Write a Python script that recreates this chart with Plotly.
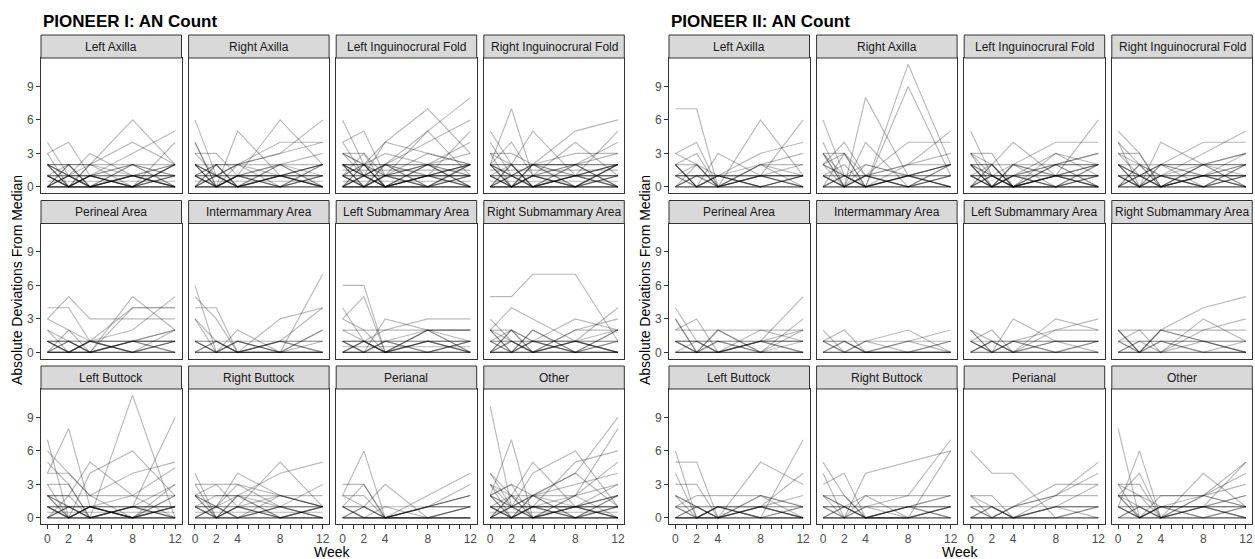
import plotly.graph_objects as go

# ---------------- data ----------------
WEEKS = [0, 2, 4, 8, 12]
X_TICK_LABELS = ["0", "", "2", "", "4", "", "", "", "8", "", "", "", "12"]
Y_TICKS = [0, 3, 6, 9]
FACETS = ["Left Axilla", "Right Axilla", "Left Inguinocrural Fold", "Right Inguinocrural Fold",
          "Perineal Area", "Intermammary Area", "Left Submammary Area", "Right Submammary Area",
          "Left Buttock", "Right Buttock", "Perianal", "Other"]
TITLES = ["PIONEER I: AN Count", "PIONEER II: AN Count"]

# each facet: list of subjects, values at WEEKS
P1_LEFT_AXILLA = [[4, 1, 3, 1, 0], [3, 4, 1, 2, 1], [2, 2, 2, 6, 2], [1, 0, 2, 4, 2], [2, 1, 1, 3, 5],
                  [3, 0, 1, 0, 4], [2, 2, 2, 2, 2], [2, 0, 1, 0, 2], [0, 2, 0, 1, 0], [1, 0, 1, 0, 1],
                  [0, 1, 0, 1, 0], [1, 1, 1, 1, 1], [0, 0, 0, 0, 0], [2, 1, 0, 1, 2], [0, 0, 1, 2, 0],
                  [1, 2, 0, 0, 2], [0, 1, 2, 1, 0], [0.5, 0.5, 0.5, 0.5, 0.5], [1, 0, 0, 1, 1],
                  [2, 0, 2, 0, 2], [0, 1, 0, 2, 1], [0, 0, 0, 0, 0], [1, 1, 1, 1, 1],
                  [2, 0, 1, 0, 2], [0, 2, 0, 2, 0], [1, 0, 1, 0, 1], [0, 1, 0, 1, 0], [0, 0, 0, 0, 0],
                  [2, 1, 0, 1, 2], [1, 0, 0, 0, 1], [0, 0, 0, 0, 0], [1, 1, 1, 1, 1]]
P1_RIGHT_AXILLA = [[6, 1, 0, 2, 1], [4, 0, 5, 1, 2], [3, 3, 1, 6, 2], [2, 1, 2, 3, 6], [3, 1, 2, 4, 4],
                   [1, 2, 2, 3, 4], [2, 0, 1, 2, 3], [4, 0, 1, 1, 0], [2, 0, 1, 0, 2], [0, 2, 0, 2, 0],
                   [1, 0, 1, 0, 1], [0, 1, 0, 1, 0], [1, 1, 1, 1, 1], [0, 0, 0, 0, 0], [2, 1, 0, 1, 2],
                   [0, 1, 2, 1, 0], [1, 2, 0, 0, 1], [0.5, 0.5, 0.5, 0.5, 0.5], [2, 2, 2, 2, 2],
                   [1, 0, 0, 1, 1], [0, 0, 1, 2, 0], [1, 1, 1, 1, 1], [0, 0, 0, 0, 0],
                   [2, 0, 2, 0, 2], [0, 1, 0, 1, 0], [1, 0, 1, 0, 1], [0, 0, 0, 0, 0], [2, 1, 0, 1, 2],
                   [1, 1, 1, 1, 1], [0, 2, 0, 1, 0], [1, 0, 1, 1, 2]]
P1_LEFT_INGUINOCRURAL = [[6, 2, 0, 1, 2], [4, 5, 1, 3, 2], [2, 2, 4, 7, 3], [1, 2, 1, 5, 8], [3, 1, 4, 3, 2],
                         [2, 1, 2, 4, 6], [3, 2, 3, 2, 4], [3, 3, 1, 1, 5], [1, 3, 0, 2, 3], [4, 1, 2, 5, 1],
                         [2, 0, 1, 0, 2], [0, 2, 0, 2, 0], [1, 0, 1, 0, 1], [0, 1, 0, 1, 0], [1, 1, 1, 1, 1],
                         [0, 0, 0, 0, 0], [2, 1, 0, 1, 2], [0, 1, 2, 1, 0], [1, 2, 0, 0, 1], [2, 2, 2, 2, 2],
                         [0.5, 0.5, 0.5, 0.5, 0.5], [1, 0, 0, 1, 1], [0, 0, 1, 2, 0], [2, 0, 2, 0, 2],
                         [1.5, 1.5, 1.5, 1.5, 1.5], [0, 1, 0, 1, 2], [1, 1, 1, 1, 1], [0, 0, 0, 0, 0],
                         [2, 1, 2, 1, 1], [3, 2, 1, 2, 1],
                         [2, 0, 2, 0, 2], [0, 2, 0, 2, 0], [1, 0, 1, 0, 1], [0, 1, 0, 1, 0], [0, 0, 0, 0, 0],
                         [2, 1, 0, 1, 2], [1, 1, 1, 1, 1], [0, 0, 0, 0, 0], [2, 2, 2, 2, 2], [1, 0, 1, 2, 1]]
P1_RIGHT_INGUINOCRURAL = [[5, 2, 0, 1, 2], [2, 7, 1, 0, 2], [3, 2, 5, 1, 2], [1, 0, 2, 5, 6], [3, 3, 2, 1, 5],
                          [2, 4, 1, 2, 4], [4, 1, 2, 3, 3], [3, 0, 1, 4, 1], [2, 0, 1, 0, 2], [0, 2, 0, 2, 0],
                          [1, 0, 1, 0, 1], [0, 1, 0, 1, 0], [1, 1, 1, 1, 1], [0, 0, 0, 0, 0], [2, 1, 0, 1, 2],
                          [0, 1, 2, 1, 0], [1, 2, 0, 0, 1], [2, 2, 2, 2, 2], [0.5, 0.5, 0.5, 0.5, 0.5],
                          [1, 0, 0, 1, 1], [0, 0, 1, 2, 0], [2, 0, 2, 0, 2], [1.5, 1.5, 1.5, 1.5, 1.5],
                          [1, 1, 1, 1, 1], [0, 0, 0, 0, 0], [2, 1, 2, 2, 3],
                          [2, 0, 2, 0, 2], [0, 2, 0, 2, 0], [1, 0, 1, 0, 1], [0, 1, 0, 1, 0], [0, 0, 0, 0, 0],
                          [2, 1, 0, 1, 2], [1, 1, 1, 1, 1], [0, 0, 0, 0, 0], [2, 2, 2, 2, 2]]
P1_PERINEAL = [[4, 4, 1, 1, 0], [3, 5, 3, 3, 3], [3, 2, 0, 5, 2], [2, 0, 1, 4, 4], [1, 1, 0, 4, 4],
               [0, 2, 1, 2, 5], [1, 0, 1, 0, 2], [0, 1, 0, 1, 2], [1, 0, 1, 0, 1], [0, 0, 0, 0, 0],
               [0, 0, 1, 0, 1], [1, 1, 1, 1, 1], [2, 1, 0, 1, 1], [0, 0, 0, 0, 0], [1, 0, 0, 1, 2],
               [0, 1, 0, 1, 0], [1, 0, 1, 0, 1], [0, 0, 0, 0, 0], [1, 1, 1, 1, 1], [0, 0, 0, 1, 1]]
P1_INTERMAMMARY = [[6, 0, 1, 0, 2], [5, 3, 0, 1, 1], [4, 4, 0, 3, 4], [3, 1, 0, 0, 7], [3, 0, 2, 0, 0],
                   [1, 1, 0, 1, 4], [1, 0, 1, 0, 2], [0, 1, 0, 1, 0], [0, 0, 0, 0, 0], [1, 0, 0, 0, 1],
                   [1, 1, 1, 1, 1], [0, 0, 0, 0, 0], [1, 0, 1, 0, 0], [0, 0, 0, 0, 0], [0, 1, 0, 1, 0]]
P1_LEFT_SUBMAMMARY = [[6, 6, 0, 1, 0], [1, 1, 2, 3, 3], [4, 1, 0, 1, 1], [3, 5, 0, 2, 1], [0, 0, 3, 2, 2],
                      [3, 2, 0, 2, 0], [2, 2, 2, 2, 2], [1, 0, 1, 2, 2], [2, 1, 0, 0, 1], [0, 1, 0, 1, 0],
                      [1, 0, 1, 0, 1], [0, 0, 0, 0, 0], [1, 1, 1, 1, 1], [0.5, 0.5, 0.5, 0.5, 0.5],
                      [0, 1, 0, 2, 0], [0, 0, 0, 0, 0], [1, 0, 1, 0, 1], [0, 1, 0, 1, 0], [1, 1, 1, 1, 1],
                      [0, 0, 0, 0, 0]]
P1_RIGHT_SUBMAMMARY = [[5, 5, 7, 7, 1], [2, 4, 3, 1, 0], [3, 1, 0, 1, 4], [1, 2, 1, 3, 2], [2, 1, 0, 2, 3],
                       [0, 2, 0, 2, 2], [2, 0, 2, 0, 0], [1, 0, 1, 0, 1], [0, 1, 0, 1, 0], [0, 0, 0, 0, 0],
                       [1, 1, 1, 1, 1], [2, 2, 1, 1, 2], [0, 0, 1, 0, 2], [0, 0, 0, 0, 0],
                       [2, 0, 2, 0, 2], [0, 2, 0, 1, 0], [1, 0, 1, 0, 1], [0, 1, 0, 1, 0], [0, 0, 0, 0, 0],
                       [1, 1, 1, 1, 1]]
P1_LEFT_BUTTOCK = [[7, 0, 1, 0, 2], [6, 4, 2, 0, 1], [5, 3, 0, 11, 0], [4, 8, 1, 0, 0], [4, 4, 2, 4, 5],
                   [2, 2, 5, 2, 0], [1, 0, 4, 6, 2], [3, 3, 0, 1, 9], [0, 1, 1, 2, 4.5], [2, 1, 0, 1, 3],
                   [3, 0, 1, 0, 3], [2, 0, 1, 0, 1], [1, 0, 1, 0, 1], [0, 1, 0, 1, 0], [0, 0, 0, 0, 0],
                   [1, 1, 1, 1, 1], [0.5, 0.5, 0.5, 0.5, 0.5], [2, 1, 0, 0, 2], [0, 2, 0, 1, 1],
                   [1, 0, 0, 1, 0], [2, 2, 2, 2, 2], [0, 0, 0, 0, 0], [1, 1, 1, 1, 1],
                   [1, 0, 1, 0, 1], [0, 1, 0, 1, 0], [0, 0, 0, 0, 0], [2, 0, 1, 0, 1], [1, 1, 1, 1, 1]]
P1_RIGHT_BUTTOCK = [[1, 1, 4, 2, 1], [4, 0, 2, 1, 0], [3, 3, 3, 2, 1], [2, 3, 1, 5, 1], [1, 2, 2, 4, 5],
                    [2, 1, 3, 1, 3], [2, 2, 2, 2, 2], [3, 0, 2, 0, 1], [1, 0, 1, 0, 1], [0, 1, 0, 1, 0],
                    [0, 0, 0, 0, 0], [1, 1, 1, 1, 1], [2, 0, 1, 2, 1], [0, 1, 2, 0, 0],
                    [0.5, 0.5, 0.5, 0.5, 0.5], [1, 0, 0, 1, 1], [0, 0, 0, 0, 0],
                    [2, 0, 1, 0, 1], [0, 1, 0, 1, 0], [1, 0, 1, 0, 1], [0, 0, 0, 0, 0], [1, 1, 1, 1, 1],
                    [2, 1, 0, 2, 1]]
P1_PERIANAL = [[3, 3, 0, 1, 2], [2, 6, 0, 1, 1], [1, 3, 0, 1, 3], [0, 1, 3, 0, 1], [2, 2, 0, 2, 4],
               [2, 1, 0, 1, 2], [1, 1, 1, 1, 1], [1, 0, 0, 1, 1], [0, 1, 0, 0, 1], [0, 0, 0, 0, 0],
               [0, 0, 0, 1, 2], [1, 0, 1, 0, 0], [0, 0, 0, 0, 0], [1, 1, 0, 0, 1], [0, 0, 0, 0, 0],
               [1, 0, 0, 0, 0]]
P1_OTHER = [[10, 1, 2, 0, 1], [2, 7, 0, 1, 1], [4, 2, 5, 1, 3], [3, 1, 4, 6, 1], [1, 0, 2, 4, 9],
            [2, 3, 0, 2, 8], [0, 2, 1, 5, 6], [4, 1, 2, 4, 1], [3, 2, 2, 3, 4], [2, 3, 2, 2, 3],
            [1, 2, 0, 1, 2], [2, 0, 1, 0, 2], [1, 0, 1, 0, 1], [0, 1, 0, 1, 0], [0, 0, 0, 0, 0],
            [1, 1, 1, 1, 1], [0, 1, 2, 1, 0], [2, 1, 0, 1, 2], [1, 0, 1, 1, 0], [0.5, 0.5, 0.5, 0.5, 0.5],
            [0, 0, 0, 0, 0], [1, 1, 1, 1, 1], [3, 0, 1, 2, 5],
            [2, 0, 2, 0, 2], [0, 2, 0, 2, 0], [1, 0, 1, 0, 1], [0, 1, 0, 1, 0], [0, 0, 0, 0, 0],
            [1, 1, 1, 1, 1], [2, 1, 1, 1, 2], [0, 0, 0, 0, 0]]

P2_LEFT_AXILLA = [[7, 7, 0, 1, 1], [3, 4, 0, 1, 2], [2, 3, 0, 6, 1], [2, 0, 3, 1, 6], [1, 1, 1, 3, 4],
                  [3, 2, 0, 2, 3], [2, 2, 1, 2, 2], [2, 0, 1, 0, 1], [1, 0, 1, 0, 1], [0, 1, 0, 1, 0],
                  [0, 0, 0, 0, 0], [1, 1, 1, 1, 1], [1, 2, 0, 2, 0], [0, 1, 1, 1, 1], [2, 0, 0, 1, 0],
                  [0, 0, 0, 0, 0], [1, 1, 1, 1, 1],
                  [2, 0, 1, 0, 1], [0, 2, 0, 1, 0], [1, 0, 1, 0, 1], [0, 0, 0, 0, 0], [1, 1, 1, 1, 1],
                  [0, 1, 0, 2, 1]]
P2_RIGHT_AXILLA = [[6, 1, 0, 1, 2], [4, 0, 8, 1, 0], [3, 3, 0, 11, 2], [1, 2, 0, 9, 1], [2, 4, 1, 4, 4],
                   [0, 1, 0, 2, 5], [3, 1, 1, 2, 3], [2, 3, 1, 2, 2], [3, 0, 2, 1, 2], [1, 0, 4, 0, 1],
                   [2, 0, 1, 0, 2], [1, 0, 1, 0, 1], [0, 1, 0, 1, 0], [0, 0, 0, 0, 0], [1, 1, 1, 1, 1],
                   [2, 1, 0, 1, 2], [0, 1, 2, 1, 0], [1, 0, 0, 1, 1], [0, 0, 0, 0, 0], [1, 1, 1, 1, 1],
                   [3, 0, 1, 0, 2], [0, 3, 0, 1, 0], [1, 0, 1, 0, 1], [0, 0, 0, 0, 0], [2, 1, 0, 1, 2]]
P2_LEFT_INGUINOCRURAL = [[3, 1, 0, 1, 6], [5, 1, 0, 1, 1], [2, 2, 4, 1, 0], [1, 0, 2, 4, 4], [3, 3, 0, 2, 3],
                         [2, 0, 1, 2, 3], [3, 2, 0, 3, 2], [1, 1, 1, 2, 2], [2, 0, 1, 0, 2], [0, 2, 0, 2, 0],
                         [1, 0, 1, 0, 1], [0, 1, 0, 1, 0], [0, 0, 0, 0, 0], [1, 1, 1, 1, 1], [2, 1, 0, 1, 2],
                         [0, 1, 2, 1, 0], [1, 0, 0, 1, 1], [2, 2, 2, 2, 2], [1, 2, 0, 0, 1], [0, 0, 0, 0, 0],
                         [1, 1, 1, 1, 1], [3, 0, 2, 1, 2],
                         [2, 0, 2, 0, 2], [0, 2, 0, 2, 0], [1, 0, 1, 0, 1], [0, 1, 0, 1, 0], [0, 0, 0, 0, 0],
                         [2, 1, 0, 1, 2], [1, 1, 1, 1, 1], [0, 0, 0, 0, 0], [2, 0, 1, 3, 1]]
P2_RIGHT_INGUINOCRURAL = [[5, 3, 0, 1, 1], [4, 2, 1, 0, 1], [1, 0, 4, 2, 3], [2, 1, 2, 4, 4], [3, 2, 1, 3, 5],
                          [3, 3, 0, 2, 3], [2, 0, 2, 1, 3], [2, 0, 1, 0, 2], [0, 2, 0, 2, 0], [1, 0, 1, 0, 1],
                          [0, 1, 0, 1, 0], [0, 0, 0, 0, 0], [1, 1, 1, 1, 1], [2, 1, 0, 1, 2], [0, 1, 2, 1, 0],
                          [1, 0, 0, 1, 1], [2, 2, 2, 2, 2], [0, 0, 0, 0, 0], [1, 1, 1, 1, 1], [3, 1, 2, 2, 2],
                          [2, 0, 2, 0, 2], [0, 2, 0, 2, 0], [1, 0, 1, 0, 1], [0, 1, 0, 1, 0], [0, 0, 0, 0, 0],
                          [2, 1, 0, 1, 2], [1, 1, 1, 1, 1], [4, 0, 1, 2, 1]]
P2_PERINEAL = [[4, 1, 0, 1, 0], [3, 0, 2, 0, 3], [2, 3, 0, 1, 1], [1, 1, 0, 1, 5], [2, 2, 2, 2, 2],
               [1, 1, 1, 1, 1], [3, 0, 2, 0, 2], [0, 1, 0, 2, 1], [0, 0, 0, 0, 0], [1, 0, 0, 1, 0],
               [0, 0, 1, 0, 1], [1, 0, 1, 0, 0], [0, 0, 0, 0, 0], [1, 1, 1, 1, 1], [0, 0, 0, 0, 0],
               [1, 0, 0, 1, 2]]
P2_INTERMAMMARY = [[2, 0, 1, 0, 0], [1, 2, 0, 1, 1], [0, 1, 1, 2, 0], [0, 0, 1, 1, 2], [1, 1, 0, 0, 1],
                   [1, 0, 0, 1, 0], [0, 1, 0, 0, 0], [0, 0, 0, 0, 0], [1, 1, 0, 0, 0], [0, 0, 0, 0, 0],
                   [1, 0, 0, 0, 1]]
P2_LEFT_SUBMAMMARY = [[2, 0, 3, 1, 1], [1, 2, 0, 3, 2], [0, 1, 0, 2, 3], [2, 1, 0, 1, 1], [1, 0, 1, 2, 2],
                      [0, 1, 1, 1, 1], [1, 0, 1, 0, 0], [0, 0, 0, 0, 0], [2, 0, 0, 0, 1], [0, 1, 0, 1, 0],
                      [1, 1, 1, 1, 1], [0, 0, 0, 0, 0], [1, 0, 1, 0, 1]]
P2_RIGHT_SUBMAMMARY = [[2, 0, 2, 4, 5], [1, 2, 0, 3, 1], [0, 1, 0, 2, 3], [2, 2, 2, 2, 2], [2, 0, 1, 1, 0],
                       [1, 0, 2, 1, 0], [0, 1, 1, 0, 1], [1, 1, 1, 1, 1], [0, 0, 0, 0, 0], [1, 0, 0, 1, 0],
                       [0, 0, 1, 0, 0], [0, 0, 0, 0, 0], [2, 0, 2, 1, 1]]
P2_LEFT_BUTTOCK = [[6, 0, 1, 0, 0], [5, 5, 0, 1, 0], [4, 0, 1, 0, 1], [3, 3, 0, 1, 0], [1, 2, 2, 2, 1],
                   [0, 1, 0, 5, 3], [2, 1, 0, 2, 0], [0, 0, 1, 0, 7], [1, 0, 0, 1, 4], [2, 0, 1, 1, 2],
                   [1, 1, 1, 1, 1], [0, 0, 0, 0, 0], [0, 1, 0, 1, 0], [1, 0, 1, 0, 1], [0, 0, 0, 2, 1],
                   [0, 0, 0, 0, 0], [2, 1, 0, 1, 0], [0, 0, 0, 0, 0], [1, 1, 1, 1, 1]]
P2_RIGHT_BUTTOCK = [[1, 0, 4, 5, 6], [5, 2, 0, 1, 0], [4, 0, 2, 0, 1], [3, 4, 0, 0, 1], [2, 0, 1, 2, 7],
                    [1, 1, 0, 0, 6], [0, 1, 2, 2, 2], [2, 1, 0, 1, 2], [1, 0, 1, 0, 1], [0, 1, 0, 1, 0],
                    [0, 0, 0, 0, 0], [1, 1, 1, 1, 1], [2, 2, 0, 0, 1], [0, 0, 0, 1, 2], [0, 0, 0, 0, 0],
                    [2, 1, 0, 1, 1], [0, 0, 0, 0, 0], [1, 1, 1, 1, 1]]
P2_PERIANAL = [[6, 4, 4, 0, 1], [2, 2, 0, 2, 5], [2, 0, 1, 3, 3], [1, 0, 1, 2, 4], [0, 1, 0, 1, 3],
               [1, 1, 1, 1, 1], [1, 0, 0, 1, 0], [0, 1, 0, 0, 1], [0, 0, 0, 0, 0], [2, 1, 0, 1, 1],
               [0, 0, 1, 2, 2], [0, 0, 0, 0, 0], [1, 1, 0, 1, 1], [0, 0, 0, 0, 0]]
P2_OTHER = [[8, 0, 1, 0, 0], [1, 6, 0, 1, 1], [2, 4, 0, 2, 5], [3, 3, 0, 4, 1], [3, 2, 2, 2, 3],
            [2, 0, 2, 2, 4], [0, 1, 0, 1, 5], [2, 2, 1, 1, 2], [3, 0, 1, 2, 1], [1, 0, 1, 1, 2],
            [2, 1, 0, 1, 0], [1, 1, 1, 1, 1], [0, 0, 0, 0, 0], [0, 1, 0, 1, 0], [1, 0, 0, 2, 1],
            [2, 2, 0, 0, 1], [1, 1, 1, 1, 1], [0, 0, 0, 0, 0], [1, 0, 1, 0, 1], [2, 0, 1, 1, 0]]

P1 = [P1_LEFT_AXILLA, P1_RIGHT_AXILLA, P1_LEFT_INGUINOCRURAL, P1_RIGHT_INGUINOCRURAL,
      P1_PERINEAL, P1_INTERMAMMARY, P1_LEFT_SUBMAMMARY, P1_RIGHT_SUBMAMMARY,
      P1_LEFT_BUTTOCK, P1_RIGHT_BUTTOCK, P1_PERIANAL, P1_OTHER]
P2 = [P2_LEFT_AXILLA, P2_RIGHT_AXILLA, P2_LEFT_INGUINOCRURAL, P2_RIGHT_INGUINOCRURAL,
      P2_PERINEAL, P2_INTERMAMMARY, P2_LEFT_SUBMAMMARY, P2_RIGHT_SUBMAMMARY,
      P2_LEFT_BUTTOCK, P2_RIGHT_BUTTOCK, P2_PERIANAL, P2_OTHER]

# ---------------- layout ----------------
W, H = 1255, 559
FONT = "Liberation Sans, Arial, Helvetica, sans-serif"
GROUP_LEFT = [41, 669]
PITCH_X = 147.6
PANEL_W = 140.5
ROW_TOP = [58, 223.5, 389]
PANEL_H = 135
STRIP_H = 23
BORDER = "#333333"

fig = go.Figure()
layout = dict(width=W, height=H, margin=dict(l=0, r=0, t=0, b=0),
              paper_bgcolor="white", plot_bgcolor="white", showlegend=False)
shapes, annotations = [], []

for g, data in enumerate([P1, P2]):
    for f in range(12):
        r, c = divmod(f, 4)
        idx = g * 12 + f + 1
        x0 = GROUP_LEFT[g] + c * PITCH_X
        x1 = x0 + PANEL_W
        top = ROW_TOP[r]
        bot = top + PANEL_H
        sfx = "" if idx == 1 else str(idx)
        layout["xaxis" + sfx] = dict(
            domain=[x0 / W, x1 / W], range=[-0.6, 12.6], anchor="y" + sfx,
            showline=True, mirror=True, linecolor=BORDER, linewidth=1,
            showgrid=False, zeroline=False, fixedrange=True,
            tickvals=list(range(13)), ticktext=X_TICK_LABELS,
            ticks="outside" if r == 2 else "", ticklen=4, tickcolor=BORDER, tickwidth=1,
            showticklabels=(r == 2),
            tickfont=dict(family=FONT, size=12, color="#4d4d4d"))
        layout["yaxis" + sfx] = dict(
            domain=[1 - bot / H, 1 - top / H], range=[-0.55, 11.55], anchor="x" + sfx,
            showline=True, mirror=True, linecolor=BORDER, linewidth=1,
            showgrid=False, zeroline=False, fixedrange=True,
            tickvals=Y_TICKS, ticks="outside" if c == 0 else "", ticklen=4,
            tickcolor=BORDER, tickwidth=1, showticklabels=(c == 0),
            tickfont=dict(family=FONT, size=12, color="#4d4d4d"))
        for subj in data[f]:
            fig.add_trace(go.Scatter(
                x=WEEKS, y=subj, mode="lines",
                line=dict(color="rgba(0,0,0,0.28)", width=1.15),
                xaxis="x" + sfx, yaxis="y" + sfx, hoverinfo="skip", showlegend=False))
        # strip
        shapes.append(dict(type="rect", xref="paper", yref="paper",
                           x0=x0 / W, x1=x1 / W, y0=1 - top / H, y1=1 - (top - STRIP_H) / H,
                           fillcolor="#d9d9d9", line=dict(color=BORDER, width=1), layer="above"))
        annotations.append(dict(text=FACETS[f], xref="paper", yref="paper",
                                x=(x0 + x1) / 2 / W, y=1 - (top - STRIP_H / 2) / H,
                                showarrow=False, xanchor="center", yanchor="middle",
                                font=dict(family=FONT, size=12, color="#1a1a1a")))
    # titles and axis titles
    annotations.append(dict(text="<b>" + TITLES[g] + "</b>", xref="paper", yref="paper",
                            x=GROUP_LEFT[g] / W, y=1 - 21 / H, showarrow=False,
                            xanchor="left", yanchor="middle",
                            font=dict(family=FONT, size=17, color="black")))
    gx0 = GROUP_LEFT[g]
    gx1 = GROUP_LEFT[g] + 3 * PITCH_X + PANEL_W
    annotations.append(dict(text="Week", xref="paper", yref="paper",
                            x=(gx0 + gx1) / 2 / W, y=1 - 552 / H, showarrow=False,
                            xanchor="center", yanchor="middle",
                            font=dict(family=FONT, size=14, color="black")))
    annotations.append(dict(text="Absolute Deviations From Median", xref="paper", yref="paper",
                            x=(gx0 - 24) / W, y=1 - 280 / H, showarrow=False, textangle=-90,
                            xanchor="center", yanchor="middle",
                            font=dict(family=FONT, size=14, color="black")))

layout["shapes"] = shapes
layout["annotations"] = annotations
fig.update_layout(**layout)
fig.write_html("out.html")
